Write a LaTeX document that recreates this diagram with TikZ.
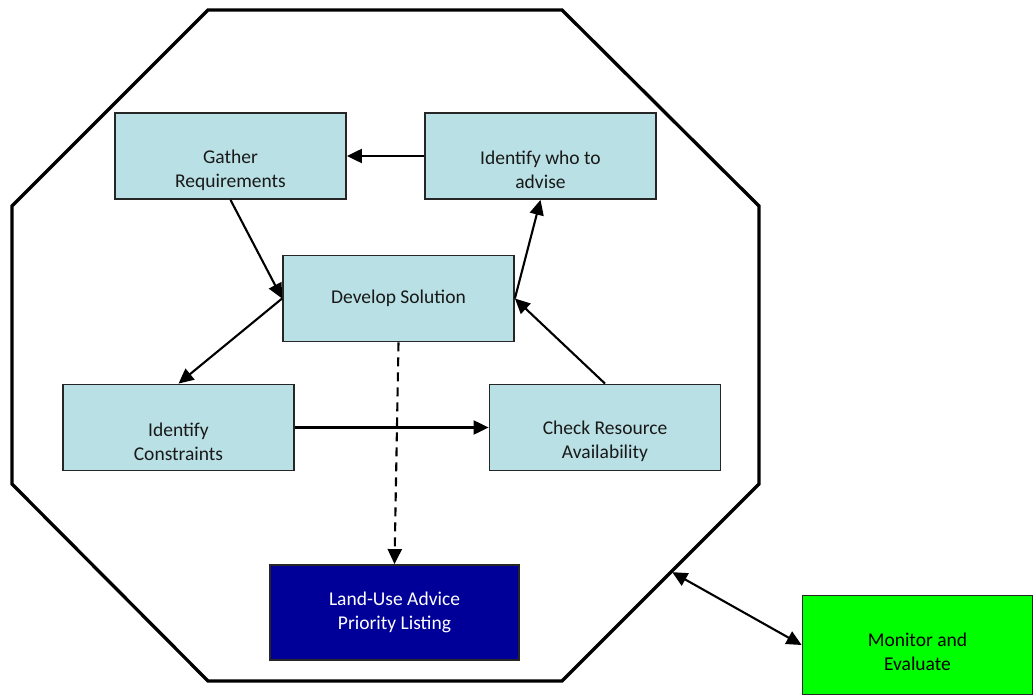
\documentclass[tikz,border=0pt]{standalone}
\usepackage{fontspec}
\setmainfont{Carlito}
\usetikzlibrary{arrows.meta,calc}
\definecolor{boxblue}{RGB}{185,224,228}
\definecolor{navy}{RGB}{0,0,153}
\definecolor{brightgreen}{RGB}{0,255,0}
\definecolor{txt}{RGB}{25,25,25}
\begin{document}
\begin{tikzpicture}[x=1pt,y=-1pt,
  >={Triangle[length=15pt,width=14pt]},
  every node/.style={font=\fontsize{19.5}{24}\selectfont, align=center, inner sep=0pt},
  stepbox/.style={draw=black!85, line width=1.8pt, fill=boxblue, minimum width=231pt, minimum height=86pt},
  steptext/.style={text=txt, yshift=-14pt},
  flow/.style={line width=2.1pt, ->},
]
\useasboundingbox (0,0) rectangle (1034,695);
% outer octagon
\coordinate (o1) at (208,10);
\coordinate (o2) at (562,10);
\coordinate (o3) at (759,206);
\coordinate (o4) at (759,484);
\coordinate (o5) at (562,681);
\coordinate (o6) at (208,681);
\coordinate (o7) at (12,484);
\coordinate (o8) at (12,206);
\draw[line width=3.3pt, line join=miter] (o1) -- (o2) -- (o3) -- (o4) -- (o5) -- (o6) -- (o7) -- (o8) -- cycle;

% process boxes
\node[stepbox] (gather) at (230.5,156) {};
\node[steptext] (gather-t) at (gather) {Gather\\Requirements};
\node[stepbox] (who) at (540.5,156) {};
\node[steptext] (who-t) at (who) {Identify who to\\advise};
\node[stepbox, text=txt] (develop) at (398.5,298.5) {Develop Solution};
\node[stepbox] (constr) at (178.5,427.5) {};
\node[steptext] (constr-t) at (constr) {Identify\\Constraints};
\node[stepbox] (check) at (605,427.5) {};
\node[steptext] (check-t) at (check) {Check Resource\\Availability};

% result and review boxes
\node[draw=black!85, line width=1.8pt, fill=navy, minimum width=249pt, minimum height=95pt] (advice) at (394.5,612.5) {};
\node[text=white] (advice-t) at (advice) {Land-Use Advice\\Priority Listing};
\node[draw=black!85, line width=1.8pt, fill=brightgreen, minimum width=230pt, minimum height=99pt] (monitor) at (917.5,645) {};
\node[text=black, yshift=-6.5pt] (monitor-t) at (monitor) {Monitor and\\Evaluate};

% connectors
\draw[flow] (who.west) -- (gather.east);
\draw[flow] (gather.south) -- (develop.west);
\draw[flow] (develop.west) -- (constr.north);
\draw[flow] (develop.east) -- (who.south);
\draw[flow] (constr.east) -- (check.west);
\draw[flow] (check.north) -- (develop.east);
\draw[flow, dash pattern=on 9pt off 6pt] (develop.south) -- (advice.north);
\coordinate (edge) at ($(o4)!0.445!(o5)$);
\draw[line width=2.1pt, <->, shorten <=1pt] (edge) -- (monitor.west);
\end{tikzpicture}
\end{document}
